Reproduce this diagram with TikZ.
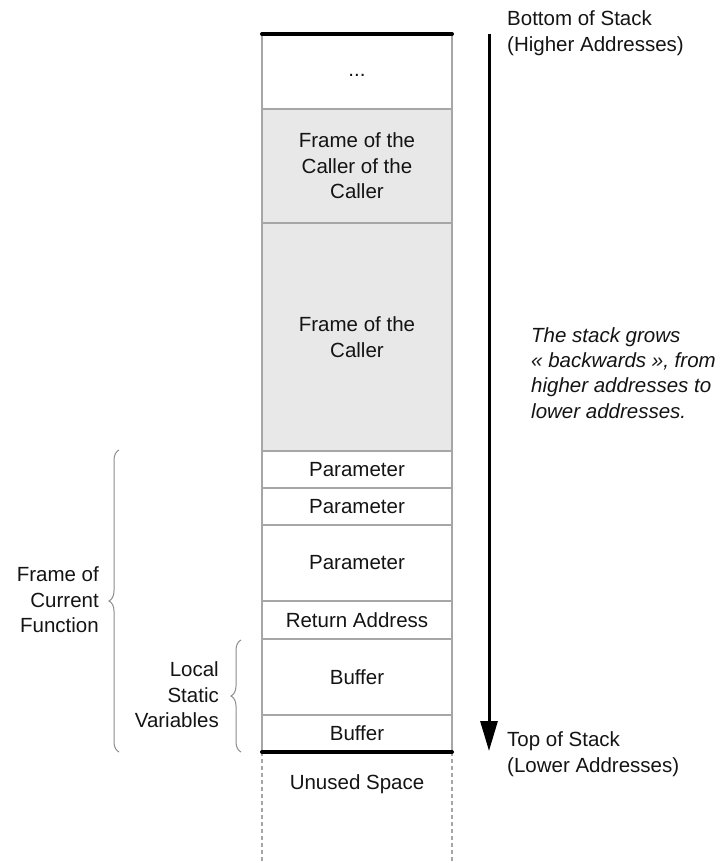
\documentclass[tikz,border=0pt]{standalone}
\usepackage{fontspec}
\setmainfont{Liberation Sans}
\usetikzlibrary{arrows.meta,decorations.pathreplacing}
\definecolor{cellline}{HTML}{A6A6A6}
\definecolor{framegray}{HTML}{E8E8E8}
\definecolor{bracegray}{HTML}{8C8C8C}
\tikzset{
  txt/.style={font=\fontsize{20.5}{25.5}\selectfont, text=black!92, align=center, inner sep=0pt},
  cell/.style={txt, draw=cellline, line width=1.3pt, minimum width=190pt, inner sep=0pt, outer sep=0pt},
  shaded/.style={cell, fill=framegray},
  limit/.style={line width=4pt, line cap=round, black},
  unused/.style={cellline, line width=1.3pt, dash pattern=on 4pt off 3pt},
  curly/.style={bracegray, line width=1pt, decorate, decoration={brace, amplitude=10pt}},
  side/.style={txt, align=left, anchor=west},
}
\begin{document}
\begin{tikzpicture}[x=1pt,y=-1pt]
\useasboundingbox (0,0) rectangle (723,863);

% stack cells, top to bottom
\node[cell,   minimum height=75pt]  (dots)  at (357,71.5)  {\raisebox{-5pt}[0pt][0pt]{...}};
\node[shaded, minimum height=114pt] (cc)    at (357,166)   {Frame of the\\Caller of the\\Caller};
\node[shaded, minimum height=228pt] (cal)   at (357,337)   {Frame of the\\Caller};
\node[cell,   minimum height=37pt]  (p1)    at (357,469.5) {Parameter};
\node[cell,   minimum height=37pt]  (p2)    at (357,506.5) {Parameter};
\node[cell,   minimum height=76pt]  (p3)    at (357,563)   {Parameter};
\node[cell,   minimum height=38pt]  (ret)   at (357,620)   {Return Address};
\node[cell,   minimum height=76pt]  (buf1)  at (357,677)   {Buffer};
\node[cell,   minimum height=37pt]  (buf2)  at (357,733.5) {Buffer};

% unused region below the top of the stack
\coordinate (ul) at (262,863);
\coordinate (ur) at (452,863);
\draw[unused] (buf2.south west) -- (ul);
\draw[unused] (buf2.south east) -- (ur);
\node[txt] (free) at (357,784) {Unused Space};

% stack limits
\draw[limit] (dots.north west) -- (dots.north east);
\draw[limit] (buf2.south west) -- (buf2.south east);

% growth direction
\coordinate (gtop) at (489,34);
\coordinate (gbot) at (489,751);
\draw[line width=3pt, -{Triangle[length=30pt,width=17pt]}] (gtop) -- (gbot);

\node[side] (bos) at (507,33) {Bottom of Stack\\(Higher Addresses)};
\node[side] (tos) at (507,754) {Top of Stack\\(Lower Addresses)};
\node[side, font=\fontsize{20.5}{25.3}\itshape\selectfont] (grow) at (531,373)
  {The stack grows\\« backwards », from\\higher addresses to\\lower addresses.};

% braces
\coordinate (fb) at (119,752);
\coordinate (ft) at (119,450);
\draw[curly] (fb) -- (ft);
\node[txt, align=right, anchor=east] (cur) at (99,600) {Frame of\\Current\\Function};

\coordinate (lb) at (241,752);
\coordinate (lt) at (241,640);
\draw[curly] (lb) -- (lt);
\node[txt, align=right, anchor=east] (loc) at (219,695) {Local\\Static\\Variables};
\end{tikzpicture}
\end{document}
